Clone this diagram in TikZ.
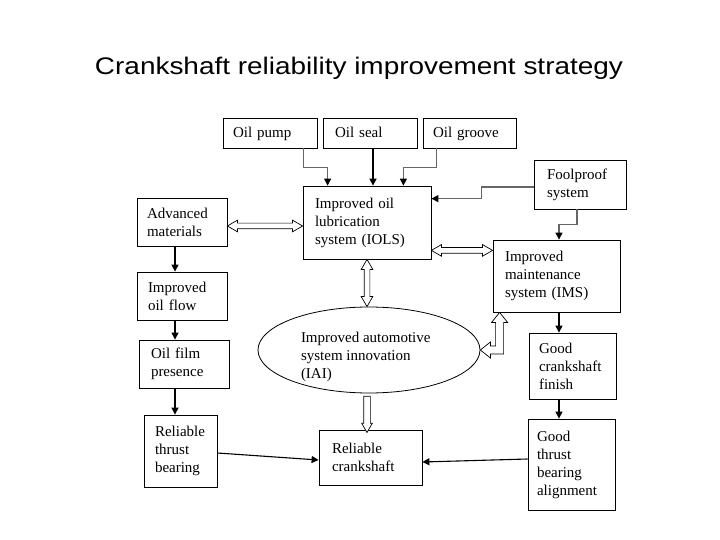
\documentclass[tikz,border=0pt]{standalone}
\usepackage{fontspec}
\usepackage{graphicx}
\setmainfont{Liberation Serif}
\newfontfamily\titlefont{Liberation Sans}
\usetikzlibrary{arrows.meta,shapes.geometric,shapes.arrows,calc}
\newcommand\boxfnt{\fontsize{15}{18}\selectfont}
\begin{document}
\begin{tikzpicture}[x=1pt,y=-1pt,
  box/.style={draw=black, line width=0.8pt, align=left, inner ysep=0pt, font=\boxfnt, anchor=center},
  oneline/.style={text height=13pt, text depth=3pt},
  conn/.style={draw=black, line width=1.1pt, -{Triangle[length=7pt,width=7pt,color=black]}},
  gconn/.style={conn, draw=black!60},
  hollowtwo/.style={double arrow, draw=black, line width=0.7pt, fill=white, inner sep=2.5pt,
    double arrow head extend=3pt, double arrow tip angle=60},
  hollowone/.style={single arrow, draw=black, line width=0.7pt, fill=white, inner sep=3pt,
    single arrow head extend=2pt, single arrow tip angle=60},
  hollowpoly/.style={draw=black, line width=0.7pt, fill=white, line join=miter}
]
\useasboundingbox (0,0) rectangle (720,540);

\node[inner sep=0pt] (title) at (359,68)
  {\resizebox{528pt}{\height}{\titlefont\fontsize{24}{28}\selectfont Crankshaft reliability improvement strategy}};

% boxes
\node[box, oneline, minimum width=94pt, minimum height=30pt, text width=74pt, inner xsep=10pt] (pump) at (270,133) {Oil pump};
\node[box, oneline, minimum width=94pt, minimum height=30pt, text width=70pt, inner xsep=12pt] (seal) at (370,133) {Oil seal};
\node[box, oneline, minimum width=93pt, minimum height=30pt, text width=73pt, inner xsep=10pt] (groove) at (469.5,133) {Oil groove};
\node[box, minimum width=128pt, minimum height=73pt, text width=104pt, inner xsep=12pt] (iols) at (367,222.5) {Improved oil\\lubrication\\system (IOLS)};
\node[box, minimum width=90pt, minimum height=48pt, text width=70pt, inner xsep=10pt] (adv) at (182,222) {Advanced\\materials};
\node[box, minimum width=92pt, minimum height=49pt, text width=66pt, inner xsep=13pt] (fool) at (580,184.5) {Foolproof\\system};
\node[box, minimum width=127pt, minimum height=72pt, text width=103pt, inner xsep=12pt] (ims) at (556.5,276) {Improved\\maintenance\\system (IMS)};
\node[box, minimum width=90pt, minimum height=48pt, text width=68pt, inner xsep=11pt] (flow) at (182,296) {Improved\\oil flow};
\node[box, minimum width=90pt, minimum height=48pt, text width=66pt, inner xsep=12pt] (film) at (184,364) {Oil film\\presence};
\node[draw=black, line width=0.8pt, ellipse, minimum width=222pt, minimum height=86pt, inner sep=0pt, font=\boxfnt] (ell) at (369,350)
  {\raisebox{-10pt}[0pt][0pt]{\parbox{136pt}{\raggedright Improved automotive\\system innovation\\(IAI)}}};
\node[box, minimum width=87pt, minimum height=66pt, text width=67pt, inner xsep=10pt] (gcf) at (572.5,366) {Good\\crankshaft\\finish};
\node[box, minimum width=73pt, minimum height=72pt, text width=51pt, inner xsep=11pt] (rtb) at (180.5,451) {Reliable\\thrust\\bearing};
\node[box, minimum width=103pt, minimum height=55pt, text width=77pt, inner xsep=13pt] (crank) at (370.5,457.5) {Reliable\\crankshaft};
\node[box, minimum width=87pt, minimum height=91pt, text width=69pt, inner xsep=9pt] (gtba) at (571.5,464.5) {Good\\thrust\\bearing\\alignment};

% solid connectors
\draw[gconn] ($(pump.south east)+(-14,0)$) -- ++(0,19) -| ($(iols.north west)+(25,0)$);
\coordinate (s1) at ($(seal.south)+(3,0)$);
\draw[conn, line width=1.6pt] (s1) -- (s1 |- iols.north);
\draw[gconn] ($(groove.south west)+(14,0)$) -- ++(0,19) -| ($(iols.north east)+(-28,0)$);
\draw[gconn] ($(fool.west)+(0,2.5)$) -- ++(-52,0) |- ($(iols.north east)+(0,13)$);
\draw[gconn] ($(fool.south)+(-3,0)$) -- ++(0,15) -| ($(ims.north)+(2.5,0)$);

\coordinate (lx) at ($(adv.south)+(-7,0)$);
\draw[conn] (lx) -- (lx |- flow.north);
\draw[conn] (lx |- flow.south) -- (lx |- film.north);
\draw[conn] (lx |- film.south) -- (lx |- rtb.north);
\coordinate (rx) at ($(ims.south)+(2.5,0)$);
\draw[conn] (rx) -- (rx |- gcf.north);
\draw[conn] (rx |- gcf.south) -- (rx |- gtba.north);
\draw[conn] ($(rtb.east)+(0,2)$) -- ($(crank.west)+(0,2.5)$);
\draw[conn] ($(gtba.west)+(0,-5.5)$) -- ($(crank.east)+(0,4.5)$);

% hollow arrows
\coordinate (a1) at ($(adv.east)+(0,4)$);
\coordinate (a2) at (a1 -| iols.west);
\path let \p1=($(a2)-(a1)$) in node[hollowtwo, minimum height={veclen(\x1,\y1)}] (h1) at ($(a1)!.5!(a2)$) {};
\coordinate (b1) at ($(iols.south east)+(0,-9)$);
\coordinate (b2) at (b1 -| ims.west);
\path let \p1=($(b2)-(b1)$) in node[hollowtwo, minimum height={veclen(\x1,\y1)}] (h2) at ($(b1)!.5!(b2)$) {};
\coordinate (c1) at (iols.south);
\coordinate (c2) at (iols.south |- ell.north);
\path let \p1=($(c2)-(c1)$) in node[hollowtwo, rotate=90, minimum height={veclen(\x1,\y1)}] (h3) at ($(c1)!.5!(c2)$) {};
\coordinate (d1) at (iols.south |- ell.south);
\coordinate (d2) at (iols.south |- crank.north);
\path let \p1=($(d2)-(d1)$) in node[hollowone, rotate=-90, minimum height={veclen(\x1,\y1)}] (h4) at ($(d1)!.5!(d2)$) {};

\coordinate (L) at (ell.east);
\coordinate (U) at ($(ims.south west)+(7,0)$);
\coordinate (K) at (L -| U);
\draw[hollowpoly] (L) -- ($(L)+(10,-8)$) -- ($(L)+(10,-4)$) -- ($(K)+(-4,-4)$) -- ($(U)+(-4,10)$)
  -- ($(U)+(-8,10)$) -- (U) -- ($(U)+(8,10)$) -- ($(U)+(4,10)$) -- ($(K)+(4,4)$)
  -- ($(L)+(10,4)$) -- ($(L)+(10,8)$) -- cycle;
\end{tikzpicture}
\end{document}
